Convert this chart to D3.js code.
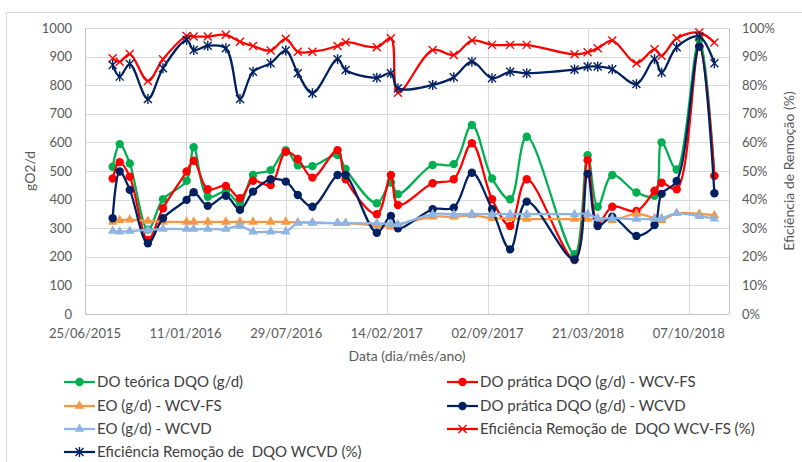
<!DOCTYPE html>
<html>
<head>
<meta charset="utf-8">
<script src="https://cdn.jsdelivr.net/npm/d3@7"></script>
<style>
  body { margin: 0; background: #fff; }
  svg { font-family: Lato, "Open Sans", sans-serif; }
  .legend text { white-space: pre; }
</style>
</head>
<body>
<div class="chart"></div>
<script>
// sample dates (dd/mm/yyyy)
const dates = [
  "19/08/2015","02/09/2015","22/09/2015","28/10/2015","27/11/2015",
  "13/01/2016","27/01/2016","24/02/2016","31/03/2016","28/04/2016",
  "24/05/2016","28/06/2016","28/07/2016","21/08/2016","19/09/2016",
  "08/11/2016","24/11/2016","25/01/2017","22/02/2017","08/03/2017",
  "16/05/2017","27/06/2017","02/08/2017","11/09/2017","17/10/2017",
  "19/11/2017","22/02/2018","20/03/2018","09/04/2018","08/05/2018",
  "25/06/2018","31/07/2018","14/08/2018","13/09/2018","28/10/2018",
  "27/11/2018"
];

const doTeorica = [515,594,526,295,401,466,583,410,428,387,486,503,573,520,517,556,507,387,460,419,521,524,661,474,401,620,209,555,375,486,425,413,600,505,960,483];
const doPraticaFS = [474,531,480,259,370,498,536,436,448,405,466,451,567,542,477,573,471,349,486,381,457,471,597,401,308,471,189,538,315,375,360,431,459,436,935,483];
const eoFS = [322,328,330,325,322,322,322,322,322,322,322,322,322,320,320,318,318,310,305,312,340,340,345,335,335,332,332,332,332,328,350,335,328,352,350,345];
const doPraticaVD = [335,498,434,247,335,399,426,378,413,364,428,471,463,416,375,486,486,284,343,300,366,372,494,366,226,393,191,490,308,340,273,311,420,465,935,422];
const eoVD = [290,288,290,294,297,297,297,297,297,308,288,288,288,318,318,318,318,317,315,313,349,349,350,349,349,349,349,350,335,335,332,332,335,352,342,333];
const efFS = [89.4,88.2,90.9,81.5,89.1,97.2,97.0,97.0,97.6,95.2,93.7,92.1,96.2,91.7,91.7,93.7,95.0,93.3,96.4,77.4,92.3,90.6,95.6,94.1,94.1,94.1,90.8,91.5,92.9,95.6,87.7,92.6,90.3,96.4,98.4,94.9];
const efVD = [87.1,83.0,87.4,75.2,85.9,95.8,92.3,93.8,92.9,75.2,84.7,87.7,92.1,84.2,77.2,89.1,85.3,82.6,84.2,78.9,80.1,82.8,88.2,82.4,84.7,84.2,85.5,86.5,86.5,85.6,80.4,89.1,84.4,93.3,97.0,87.7];

const xTickLabels = ["25/06/2015","11/01/2016","29/07/2016","14/02/2017","02/09/2017","21/03/2018","07/10/2018"];
const xEndLabel = "26/12/2018";
const leftTicks = [0,100,200,300,400,500,600,700,800,900,1000];
const rightTicks = [0,10,20,30,40,50,60,70,80,90,100];

const series = [
  { name: "DO teórica DQO (g/d)", values: doTeorica, color: "#00B050", marker: "circle", axis: "left" },
  { name: "DO prática DQO (g/d) - WCV-FS", values: doPraticaFS, color: "#FF0000", marker: "circle", axis: "left" },
  { name: "EO (g/d) - WCV-FS", values: eoFS, color: "#F79646", marker: "triangle", axis: "left" },
  { name: "DO prática DQO (g/d) - WCVD", values: doPraticaVD, color: "#002060", marker: "circle", axis: "left" },
  { name: "EO (g/d) - WCVD", values: eoVD, color: "#8EB4E3", marker: "triangle", axis: "left" },
  { name: "Eficiência Remoção de  DQO WCV-FS (%)", values: efFS, color: "#FF0000", marker: "x", axis: "right" },
  { name: "Eficiência Remoção de  DQO WCVD (%)", values: efVD, color: "#002060", marker: "star", axis: "right" }
];

const W = 802, H = 462;
const m = { l: 85, r: 729, t: 28, b: 314 };
const parse = d3.timeParse("%d/%m/%Y");

const svg = d3.select(".chart").append("svg")
  .attr("width", W).attr("height", H);

// outer chart border (partly off-page)
svg.append("rect")
  .attr("x", 6.5).attr("y", 12.5)
  .attr("width", 900).attr("height", 600)
  .attr("fill", "none").attr("stroke", "#D9D9D9");

const x = d3.scaleTime()
  .domain([parse(xTickLabels[0]), parse(xEndLabel)])
  .range([m.l, m.r]);
const yL = d3.scaleLinear().domain([0, 1000]).range([m.b, m.t]);
const yR = d3.scaleLinear().domain([0, 100]).range([m.b, m.t]);

// gridlines
svg.append("g").selectAll("line").data(leftTicks.slice(1)).join("line")
  .attr("x1", m.l).attr("x2", m.r)
  .attr("y1", d => Math.round(yL(d)) + 0.5).attr("y2", d => Math.round(yL(d)) + 0.5)
  .attr("stroke", "#D9D9D9");
svg.append("g").selectAll("line").data(xTickLabels.slice(1)).join("line")
  .attr("x1", d => Math.round(x(parse(d))) + 0.5).attr("x2", d => Math.round(x(parse(d))) + 0.5)
  .attr("y1", m.t).attr("y2", m.b)
  .attr("stroke", "#D9D9D9");

// axis lines
const ax = svg.append("g").attr("stroke", "#BFBFBF").attr("stroke-width", 1);
ax.append("line").attr("x1", m.l + 0.5).attr("x2", m.l + 0.5).attr("y1", m.t).attr("y2", m.b);
ax.append("line").attr("x1", m.r + 0.5).attr("x2", m.r + 0.5).attr("y1", m.t).attr("y2", m.b);
ax.append("line").attr("x1", m.l).attr("x2", m.r).attr("y1", m.b + 0.5).attr("y2", m.b + 0.5);

// tick labels
svg.append("g").selectAll("text").data(leftTicks).join("text")
  .attr("x", 72).attr("y", d => yL(d) + 4.5)
  .attr("text-anchor", "end").attr("font-size", 13).attr("fill", "#595959")
  .text(d => d);
svg.append("g").selectAll("text").data(rightTicks).join("text")
  .attr("x", 742).attr("y", d => yR(d) + 4.5)
  .attr("font-size", 13).attr("fill", "#595959")
  .text(d => d + "%");
svg.append("g").selectAll("text").data(xTickLabels).join("text")
  .attr("x", d => x(parse(d))).attr("y", 338)
  .attr("text-anchor", "middle").attr("font-size", 13).attr("fill", "#595959")
  .text(d => d);

// axis titles
svg.append("text").attr("x", 407).attr("y", 361).attr("text-anchor", "middle")
  .attr("font-size", 14).attr("fill", "#595959").text("Data (dia/mês/ano)");
svg.append("text").attr("transform", "translate(35,171) rotate(-90)")
  .attr("text-anchor", "middle").attr("font-size", 14).attr("fill", "#595959").text("gO2/d");
svg.append("text").attr("transform", "translate(794,171) rotate(-90)")
  .attr("text-anchor", "middle").attr("font-size", 14).attr("fill", "#595959").text("Eficiência de Remoção (%)");

function drawMarker(g, type, color, px, py) {
  if (type === "circle") {
    g.append("circle").attr("cx", px).attr("cy", py).attr("r", 4.2).attr("fill", color);
  } else if (type === "triangle") {
    g.append("path").attr("transform", `translate(${px},${py})`)
      .attr("d", d3.symbol(d3.symbolTriangle, 40)).attr("fill", color);
  } else {
    const s = 4;
    const p = g.append("g").attr("transform", `translate(${px},${py})`)
      .attr("stroke", color).attr("stroke-width", 1.4);
    p.append("line").attr("x1", -s).attr("y1", -s).attr("x2", s).attr("y2", s);
    p.append("line").attr("x1", -s).attr("y1", s).attr("x2", s).attr("y2", -s);
    if (type === "star") p.append("line").attr("x1", 0).attr("y1", -s - 1).attr("x2", 0).attr("y2", s + 1);
  }
}

const plot = svg.append("g");
series.forEach(s => {
  const y = s.axis === "left" ? yL : yR;
  const pts = dates.map((d, i) => [x(parse(d)), y(s.values[i])]);
  const g = plot.append("g");
  g.append("path").datum(pts)
    .attr("fill", "none").attr("stroke", s.color).attr("stroke-width", 2.25)
    .attr("stroke-linejoin", "round")
    .attr("d", d3.line().curve(d3.curveCatmullRom.alpha(0.5)));
  pts.forEach(p => drawMarker(g, s.marker, s.color, p[0], p[1]));
});

// legend
const legendPos = [
  [64, 382], [447, 382], [64, 406], [447, 406], [64, 429], [447, 429], [64, 452]
];
const legend = svg.append("g").attr("class", "legend");
series.forEach((s, i) => {
  const [lx, ly] = legendPos[i];
  const g = legend.append("g");
  g.append("line").attr("x1", lx).attr("x2", lx + 31).attr("y1", ly).attr("y2", ly)
    .attr("stroke", s.color).attr("stroke-width", 2.25);
  drawMarker(g, s.marker, s.color, lx + 15.5, ly);
  g.append("text").attr("x", lx + 33).attr("y", ly + 5)
    .attr("font-size", 15).attr("fill", "#404040").text(s.name);
});
</script>
</body>
</html>
